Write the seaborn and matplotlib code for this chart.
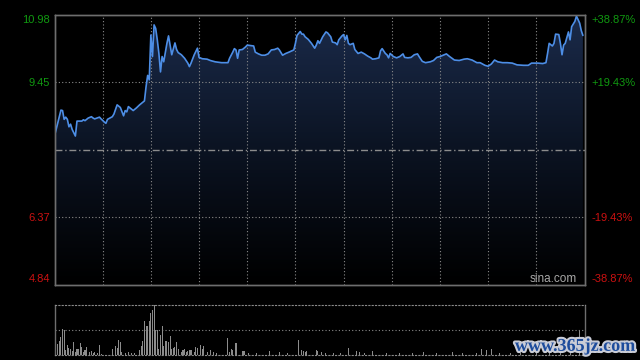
import numpy as np
import pandas as pd
import seaborn as sns
import matplotlib
matplotlib.use("Agg")
import matplotlib.pyplot as plt
from matplotlib.colors import LinearSegmentedColormap
import matplotlib.patheffects as pe

# ---------------- data ----------------
prev_close = 7.91
price_ticks = [4.84, 6.37, 9.45, 10.98]
pct_labels = ["-38.87%", "-19.43%", "+19.43%", "+38.87%"]

minutes = [0, 4, 5, 6, 7, 8, 9, 10, 11, 13, 14, 17, 18, 19, 21, 23, 24, 25, 28, 29,
           31, 32, 33, 36, 37, 39, 41, 43, 44, 45, 46, 48, 49, 51, 53, 56, 57, 58, 59, 60,
           61, 62, 63, 64, 65, 66, 67, 68, 70, 71, 72, 73, 75, 76, 77, 79, 81, 83, 84, 85,
           87, 89, 90, 92, 95, 97, 100, 104, 108, 109, 111, 112, 113, 114, 115, 117, 119, 120, 124, 125,
           127, 129, 131, 133, 135, 137, 139, 140, 142, 144, 146, 149, 150, 151, 153, 154, 155, 156, 158, 160,
           162, 163, 164, 165, 167, 169, 170, 172, 173, 175, 176, 177, 179, 180, 181, 182, 183, 184, 186, 187,
           189, 191, 193, 195, 197, 198, 200, 202, 203, 204, 206, 207, 208, 209, 211, 213, 215, 217, 218, 220,
           222, 224, 226, 227, 229, 231, 234, 236, 238, 240, 242, 244, 246, 249, 252, 255, 257, 260, 262, 263,
           265, 268, 270, 272, 274, 276, 279, 282, 285, 288, 292, 295, 297, 301, 304, 306, 307, 308, 310, 311,
           312, 314, 315, 316, 317, 318, 320, 321, 322, 324, 325, 327, 328, 329]
prices = [8.22, 8.81, 8.80, 8.60, 8.65, 8.60, 8.43, 8.49, 8.37, 8.22, 8.56, 8.56, 8.59, 8.57, 8.63, 8.66, 8.63, 8.61, 8.65, 8.61,
          8.54, 8.51, 8.60, 8.66, 8.72, 8.93, 8.87, 8.68, 8.80, 8.77, 8.89, 8.83, 8.80, 8.86, 8.93, 9.02, 9.34, 9.60, 9.50, 10.52,
          10.03, 10.75, 10.67, 10.41, 10.10, 9.68, 10.03, 9.91, 10.33, 10.50, 10.29, 10.07, 10.34, 10.19, 10.12, 10.07, 9.99, 9.88, 9.80, 9.88,
          10.07, 10.22, 10.01, 9.98, 9.97, 9.94, 9.91, 9.89, 9.89, 9.99, 10.13, 10.21, 10.18, 9.99, 10.18, 10.19, 10.25, 10.29, 10.27, 10.13,
          10.09, 10.06, 10.06, 10.09, 10.18, 10.19, 10.22, 10.18, 10.06, 10.10, 10.13, 10.18, 10.33, 10.51, 10.60, 10.54, 10.54, 10.48, 10.42, 10.33,
          10.22, 10.29, 10.39, 10.33, 10.48, 10.59, 10.57, 10.48, 10.36, 10.34, 10.30, 10.41, 10.50, 10.53, 10.41, 10.51, 10.33, 10.30, 10.33, 10.19,
          10.10, 10.13, 10.09, 10.04, 10.00, 9.97, 9.98, 10.00, 10.16, 10.21, 10.10, 10.07, 10.00, 10.10, 10.03, 10.00, 10.03, 10.09, 10.01, 10.00,
          10.01, 10.07, 10.09, 10.03, 9.92, 9.89, 9.91, 9.94, 10.01, 10.03, 10.06, 10.09, 10.03, 9.95, 9.94, 9.97, 9.98, 9.95, 9.91, 9.89,
          9.89, 9.83, 9.81, 9.86, 9.95, 9.91, 9.89, 9.89, 9.88, 9.84, 9.83, 9.83, 9.88, 9.88, 9.87, 9.89, 10.10, 10.33, 10.27, 10.33,
          10.54, 10.53, 10.33, 10.07, 10.29, 10.33, 10.59, 10.41, 10.71, 10.83, 10.95, 10.79, 10.62, 10.51]

vol_minutes = [2, 3, 4, 5, 6, 7, 8, 9, 10, 11, 12, 13, 14, 15, 16, 17, 18, 19, 20, 22,
               23, 24, 25, 27, 28, 29, 36, 38, 39, 40, 41, 42, 44, 46, 48, 50, 53, 54, 55, 56,
               57, 58, 59, 60, 61, 62, 63, 64, 65, 66, 67, 68, 69, 70, 71, 72, 73, 74, 75, 76,
               77, 79, 80, 81, 82, 83, 84, 85, 87, 88, 89, 91, 92, 93, 95, 97, 99, 101, 108, 109,
               110, 111, 113, 117, 118, 121, 126, 134, 140, 145, 152, 154, 155, 156, 157, 163, 164, 166, 169, 174,
               178, 183, 188, 190, 193, 198, 207, 215, 223, 230, 238, 248, 254, 263, 266, 269, 272, 277, 284, 290,
               300, 308, 315, 321, 327]
vol_values = [0.21, 0.28, 0.36, 0.52, 0.50, 0.09, 0.19, 0.14, 0.12, 0.07, 0.25, 0.05, 0.12, 0.12, 0.23, 0.15, 0.05, 0.09, 0.15, 0.05,
              0.07, 0.03, 0.05, 0.03, 0.19, 0.02, 0.12, 0.17, 0.14, 0.30, 0.25, 0.05, 0.03, 0.05, 0.03, 0.03, 0.10, 0.17, 0.28, 0.68,
              0.58, 0.58, 0.68, 0.83, 0.89, 0.99, 0.50, 0.50, 0.12, 0.40, 0.58, 0.17, 0.27, 0.27, 0.25, 0.38, 0.12, 0.14, 0.15, 0.25,
              0.12, 0.05, 0.09, 0.12, 0.05, 0.07, 0.09, 0.10, 0.05, 0.15, 0.14, 0.19, 0.12, 0.17, 0.05, 0.10, 0.05, 0.03, 0.33, 0.05,
              0.12, 0.10, 0.23, 0.07, 0.07, 0.03, 0.03, 0.07, 0.05, 0.03, 0.30, 0.10, 0.07, 0.05, 0.07, 0.10, 0.07, 0.05, 0.04, 0.03,
              0.04, 0.14, 0.07, 0.06, 0.04, 0.07, 0.03, 0.03, 0.03, 0.06, 0.03, 0.05, 0.03, 0.04, 0.12, 0.09, 0.12, 0.04, 0.03, 0.04,
              0.05, 0.12, 0.10, 0.14, 0.48]

# ---------------- style ----------------
sns.set_theme(style="dark")
plt.rcParams["font.family"] = ["Liberation Sans", "DejaVu Sans"]

GREEN = "#109a10"
RED = "#cc1111"
GRID = "#8a8a8a"
SPINE = "#6e6e6e"

df = pd.DataFrame({"minute": minutes, "price": prices})
vdf = pd.DataFrame({"minute": vol_minutes, "vol": vol_values})

fig = plt.figure(figsize=(6.4, 3.6), dpi=100, facecolor="black")
ax = fig.add_axes([54.5 / 640, 75.5 / 360, 530 / 640, 269.7 / 360])
ax.set_facecolor("black")
ax.grid(False)

ymin, ymax = price_ticks[0], price_ticks[-1]

# gradient area fill under price line
cmap = LinearSegmentedColormap.from_list("g", ["#000000", "#0b1322", "#1b2b4b"])
grad = np.linspace(1, 0, 256).reshape(-1, 1)
poly = ax.fill_between(df["minute"], df["price"], ymin, color="none", lw=0)
im = ax.imshow(grad, extent=[0, 330, ymin, ymax], aspect="auto", cmap=cmap,
               origin="upper", zorder=1, interpolation="bicubic")
im.set_clip_path(poly.get_paths()[0], transform=ax.transData)

# grid
dot = (0, (1, 2))
for m in range(30, 330, 30):
    ax.axvline(m, color=GRID, lw=0.8, ls=dot, zorder=2)
for p in (price_ticks[1], price_ticks[2]):
    ax.axhline(p, color=GRID, lw=0.8, ls=dot, zorder=2)
ax.axhline(prev_close, color="#8c8c8c", lw=1.0, ls=(0, (5, 2, 1, 2)), zorder=2)

sns.lineplot(data=df, x="minute", y="price", ax=ax, color="#4d8ee6", lw=1.2, zorder=3)

ax.set_xlim(0, 330)
ax.set_ylim(ymin, ymax)
ax.set_xticks([])
ax.set_xlabel("")
ax.set_ylabel("")
ax.set_yticks(price_ticks)
ax.set_yticklabels([f"{v:.2f}" for v in price_ticks], fontsize=8)
ax.tick_params(axis="y", length=0, pad=3)
cols = [RED, RED, GREEN, GREEN]
for lab, c in zip(ax.get_yticklabels(), cols):
    lab.set_color(c)
ax.get_yticklabels()[0].set_va("bottom")
ax.get_yticklabels()[-1].set_va("top")

ax2 = ax.twinx()
ax2.set_ylim(ymin, ymax)
ax2.set_yticks(price_ticks)
ax2.set_yticklabels(pct_labels, fontsize=8)
ax2.tick_params(axis="y", length=0, pad=5)
for lab, c in zip(ax2.get_yticklabels(), cols):
    lab.set_color(c)
ax2.get_yticklabels()[0].set_va("bottom")
ax2.get_yticklabels()[-1].set_va("top")
ax2.grid(False)

for a in (ax, ax2):
    for s in a.spines.values():
        s.set_visible(True)
        s.set_color(SPINE)
        s.set_linewidth(1.0)

ax.text(0.941, 0.022, "sina.com", transform=ax.transAxes, ha="center", va="center",
        color="#a8a8a8", fontsize=8.5, zorder=5)

# ---------------- volume panel ----------------
vax = fig.add_axes([54.5 / 640, 5 / 360, 530 / 640, 50.3 / 360])
vax.set_facecolor("black")
vax.grid(False)
sns.barplot(data=vdf, x="minute", y="vol", ax=vax, native_scale=True, color="#8c8c8c",
            width=0.65, saturation=1, edgecolor="none")
vax.set_xlim(0, 330)
vax.set_ylim(0, 1.0)
vax.axhline(0.5, color=GRID, lw=0.8, ls=dot)
vax.set_xticks([])
vax.set_yticks([])
vax.set_xlabel("")
vax.set_ylabel("")
for side in ("left", "right"):
    vax.spines[side].set_color(SPINE)
    vax.spines[side].set_linewidth(1.0)
for side in ("top", "bottom"):
    vax.spines[side].set_color(GRID)
    vax.spines[side].set_linewidth(0.8)
    vax.spines[side].set_linestyle(dot)

# watermark
fig.text(0.898, 0.038, "www.365jz.com", ha="center", va="center", fontsize=13,
         fontweight="bold", color="#1d4c9c", family=["Liberation Serif", "DejaVu Serif"],
         path_effects=[pe.withStroke(linewidth=3, foreground="#c9ccd6")], zorder=10)

fig.savefig("out.png", dpi=100, facecolor="black")
